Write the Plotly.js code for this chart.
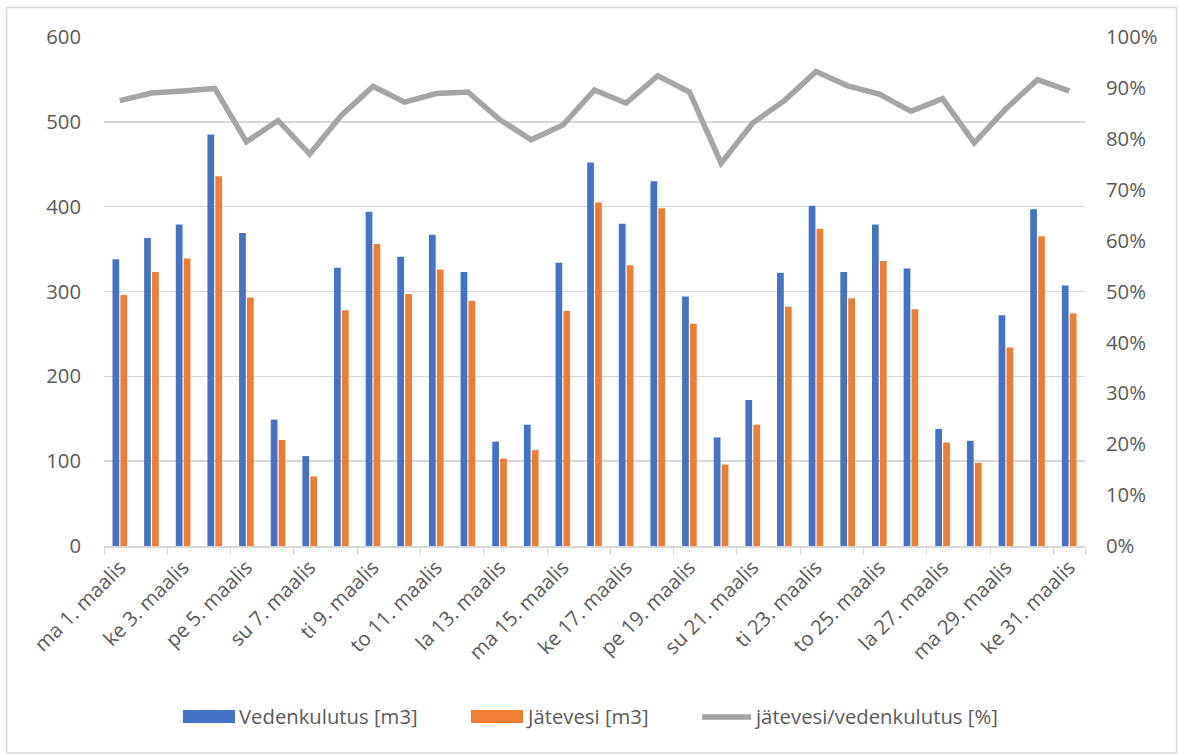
<!DOCTYPE html>
<html><head><meta charset="utf-8">
<script src="https://cdn.plot.ly/plotly-3.0.1.min.js"></script>
<style>html,body{margin:0;padding:0;background:#fff}#chart{width:1179px;height:754px}</style>
</head><body><div id="chart"></div>
<script>
const days = ["ma 1. maalis","ti 2. maalis","ke 3. maalis","to 4. maalis","pe 5. maalis","la 6. maalis","su 7. maalis",
  "ma 8. maalis","ti 9. maalis","ke 10. maalis","to 11. maalis","pe 12. maalis","la 13. maalis","su 14. maalis",
  "ma 15. maalis","ti 16. maalis","ke 17. maalis","to 18. maalis","pe 19. maalis","la 20. maalis","su 21. maalis",
  "ma 22. maalis","ti 23. maalis","ke 24. maalis","to 25. maalis","pe 26. maalis","la 27. maalis","su 28. maalis",
  "ma 29. maalis","ti 30. maalis","ke 31. maalis"];
const tickDays = days.filter((d, i) => i % 2 === 0);
const vedenkulutus = [338, 363, 379, 485, 369, 149, 106, 328, 394, 341, 367, 323, 123, 143, 334, 452,
  380, 430, 294, 128, 172, 322, 401, 323, 379, 327, 138, 124, 272, 397, 307];
const jatevesi = [296, 323, 339, 436, 293, 125, 82, 278, 356, 297, 326, 289, 103, 113, 277, 405,
  331, 398, 262, 96, 143, 282, 374, 292, 336, 279, 122, 98, 234, 365, 274];
const osuus = [87.5, 89.0, 89.4, 89.9, 79.4, 83.6, 77.0, 84.6, 90.3, 87.2, 88.9, 89.2, 83.8, 79.8, 82.7, 89.6,
  87.0, 92.4, 89.2, 75.2, 83.1, 87.5, 93.2, 90.4, 88.8, 85.4, 87.9, 79.2, 85.9, 91.6, 89.4];
const names = ["Vedenkulutus [m3]", "Jätevesi [m3]", "jätevesi/vedenkulutus [%]"];
const colors = ["#4472C4", "#ED7D31", "#A5A5A5"];

const FONT = "'Open Sans', sans-serif";
const TXT = "#595959";
const GRID = "#d9d9d9";
const FS = 20.3;

const traces = [
  {type: "bar", x: days, y: vedenkulutus, name: names[0], marker: {color: colors[0]}},
  {type: "bar", x: days, y: jatevesi, name: names[1], marker: {color: colors[1]}},
  {type: "scatter", mode: "lines", x: days, y: osuus, name: names[2], yaxis: "y2",
   line: {color: colors[2], width: 5.5}}
];

// plot area: x 104..1085, y 37..546 (px)
const px = v => (v - 104) / 981;
const py = v => (546 - v) / 509;

const layout = {
  width: 1179, height: 754,
  margin: {l: 104, r: 94, t: 37, b: 208},
  paper_bgcolor: "#fff", plot_bgcolor: "#fff",
  font: {family: FONT, color: TXT, size: FS},
  showlegend: false,
  barmode: "group", bargap: 0.5, bargroupgap: 0.15,
  xaxis: {
    type: "category", tickmode: "array", tickvals: tickDays, ticktext: tickDays,
    tickangle: -45, tickson: "boundaries", ticks: "outside", ticklen: 7, tickcolor: GRID,
    showline: true, linecolor: GRID, linewidth: 1.5, showgrid: false,
    tickfont: {family: FONT, size: FS, color: TXT}
  },
  yaxis: {
    range: [0, 600], dtick: 100, showgrid: true, gridcolor: GRID, gridwidth: 1.5,
    zeroline: false, ticks: "", ticklabelstandoff: 22,
    tickfont: {family: FONT, size: FS, color: TXT}
  },
  yaxis2: {
    overlaying: "y", side: "right", range: [0, 100], dtick: 10, ticksuffix: "%",
    showgrid: false, zeroline: false, ticks: "", ticklabelstandoff: 20,
    tickfont: {family: FONT, size: FS, color: TXT}
  },
  shapes: [
    {type: "rect", xref: "paper", yref: "paper", x0: px(6.5), x1: px(1176.5), y0: py(753), y1: py(7.5),
     line: {color: GRID, width: 1.5}, fillcolor: "rgba(0,0,0,0)", layer: "below"},
    {type: "rect", xref: "paper", yref: "paper", x0: px(183), x1: px(235), y0: py(723), y1: py(710),
     line: {width: 0}, fillcolor: colors[0]},
    {type: "rect", xref: "paper", yref: "paper", x0: px(471), x1: px(523), y0: py(723), y1: py(710),
     line: {width: 0}, fillcolor: colors[1]},
    {type: "line", xref: "paper", yref: "paper", x0: px(702), x1: px(751), y0: py(717), y1: py(717),
     line: {color: colors[2], width: 5.5}}
  ],
  annotations: [
    {xref: "paper", yref: "paper", x: px(237), y: py(716), xanchor: "left", yanchor: "middle",
     text: names[0], showarrow: false, font: {family: FONT, size: FS, color: TXT}},
    {xref: "paper", yref: "paper", x: px(524), y: py(716), xanchor: "left", yanchor: "middle",
     text: names[1], showarrow: false, font: {family: FONT, size: FS, color: TXT}},
    {xref: "paper", yref: "paper", x: px(752), y: py(716), xanchor: "left", yanchor: "middle",
     text: names[2], showarrow: false, font: {family: FONT, size: FS, color: TXT}}
  ]
};

Plotly.newPlot("chart", traces, layout, {displayModeBar: false, staticPlot: true});
</script>
</body></html>
